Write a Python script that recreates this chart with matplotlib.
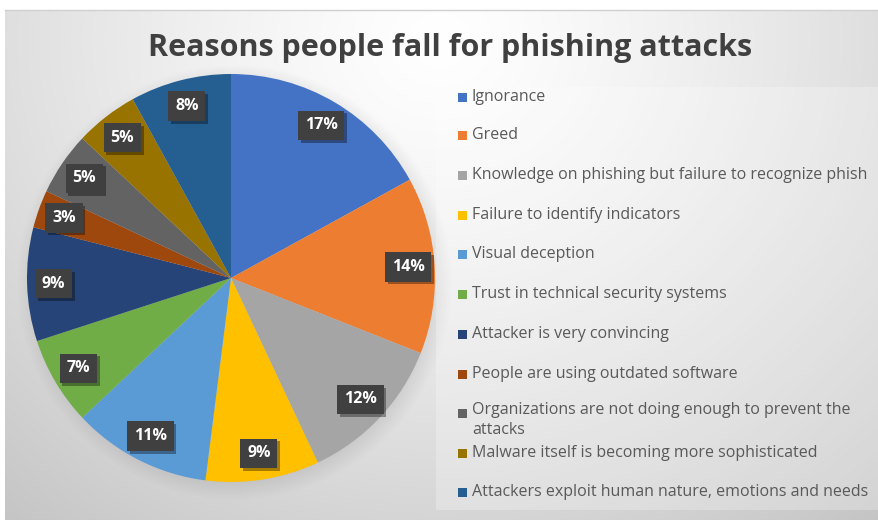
import numpy as np
import matplotlib
matplotlib.use("Agg")
import matplotlib.pyplot as plt
from matplotlib import patheffects as pe
from matplotlib.patches import Rectangle

title = "Reasons people fall for phishing attacks"
categories = [
    "Ignorance",
    "Greed",
    "Knowledge on phishing but failure to recognize phish",
    "Failure to identify indicators",
    "Visual deception",
    "Trust in technical security systems",
    "Attacker is very convincing",
    "People are using outdated software",
    "Organizations are not doing enough to prevent the\nattacks",
    "Malware itself is becoming more sophisticated",
    "Attackers exploit human nature, emotions and needs",
]
values = [17, 14, 12, 9, 11, 7, 9, 3, 5, 5, 8]
colors = ["#4472C4", "#ED7D31", "#A5A5A5", "#FFC000", "#5B9BD5", "#70AD47",
          "#264478", "#9E480E", "#636363", "#997300", "#255E91"]

W, H = 879, 520
fig = plt.figure(figsize=(W / 100, H / 100), dpi=100)
fig.patch.set_facecolor("white")

# background gradient + pie shadow
cx, cy, R = 231, 278, 204
yy, xx = np.mgrid[0:H, 0:W].astype(float)
d = np.sqrt(((xx - 440) / 620) ** 2 + ((yy - 40) / 560) ** 2)
bg = 1.0 - 0.20 * np.clip(d, 0, 1.2) ** 1.3
dist = np.sqrt((xx - cx - 3) ** 2 + (yy - cy - 4) ** 2)
sh = np.clip((R + 14 - dist) / 28, 0, 1)
bg = bg * (1 - 0.12 * sh)
img = np.dstack([bg, bg, bg])
img[:10, :, :] = 1.0
img[:, :5, :] = 1.0
ax_bg = fig.add_axes([0, 0, 1, 1])
ax_bg.imshow(img, extent=(0, W, H, 0), aspect="auto", interpolation="bilinear")
ax_bg.plot([5, W], [10, 10], color="#d0d0d0", lw=1)
ax_bg.add_patch(Rectangle((436, 87), W - 436, 423, facecolor="white", alpha=0.25, lw=0))
ax_bg.set_xlim(0, W)
ax_bg.set_ylim(H, 0)
ax_bg.axis("off")

fig.text(450 / W, 1 - 48 / H, title, ha="center", va="center",
         fontsize=22, fontweight="bold", family="Open Sans", color="#404040")

ax = fig.add_axes([(cx - R) / W, (H - cy - R) / H, 2 * R / W, 2 * R / H])
wedges, texts, autotexts = ax.pie(
    values, colors=colors, startangle=90, counterclock=False, radius=1.0,
    autopct=lambda p: f"{p:.0f}%", pctdistance=0.87,
    textprops=dict(color="white", fontsize=11.5, fontweight="bold", family="Open Sans"),
    wedgeprops=dict(linewidth=0),
)
ax.set_xlim(-1, 1)
ax.set_ylim(-1, 1)
ax.set_aspect("equal")
for t in autotexts:
    t.set_bbox(dict(boxstyle="square,pad=0.42", facecolor="#404040", edgecolor="none"))
    t.get_bbox_patch().set_path_effects([
        pe.SimplePatchShadow(offset=(2, -2), shadow_rgbFace="black", alpha=0.35),
        pe.Normal()])

# legend
ly = [97, 135, 175, 215, 254, 294, 334, 374, 413, 453, 492]
for lab, col, y in zip(categories, colors, ly):
    ax_bg.add_patch(Rectangle((458.5, y - 4.5), 9, 9, facecolor=col, lw=0))
    ax_bg.text(472, y + (-11 if "\n" in lab else 0), lab, ha="left",
               va="top" if "\n" in lab else "center",
               fontsize=11.5, family="Open Sans", color="#595959", linespacing=1.3)

fig.savefig("out.png", dpi=100)
